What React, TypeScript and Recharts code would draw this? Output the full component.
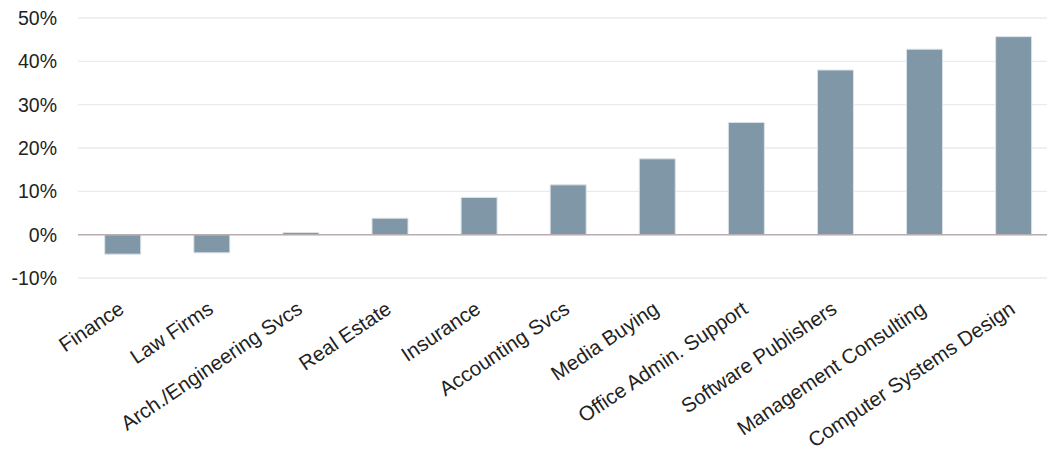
import { BarChart, Bar, XAxis, YAxis, CartesianGrid, ReferenceLine } from 'recharts';

const industries = [
  'Finance',
  'Law Firms',
  'Arch./Engineering Svcs',
  'Real Estate',
  'Insurance',
  'Accounting Svcs',
  'Media Buying',
  'Office Admin. Support',
  'Software Publishers',
  'Management Consulting',
  'Computer Systems Design',
];

const growth = [-4.5, -4.2, 0.5, 3.8, 8.6, 11.5, 17.5, 25.9, 38.0, 42.8, 45.7];

const yTicks = [-10, 0, 10, 20, 30, 40, 50];

const chartData = industries.map((name, i) => ({ name, value: growth[i] }));

const FONT = '"Liberation Sans", Arial, sans-serif';

function AngledTick({ x, y, payload }: any) {
  return (
    <g transform={`translate(${x + 3},${y + 26})`}>
      <text
        textAnchor="end"
        transform="rotate(-34)"
        fill="#222"
        fontSize={20.5}
        fontFamily={FONT}
      >
        {payload.value}
      </text>
    </g>
  );
}

export default function App() {
  return (
    <div style={{ position: 'absolute', left: 0, top: 0, width: 1047, height: 454, overflow: 'hidden', background: '#fff' }}>
      <BarChart
        width={1060}
        height={454}
        data={chartData}
        margin={{ top: 18, right: 2, bottom: 0, left: 0 }}
        barCategoryGap="30%"
      >
        <CartesianGrid vertical={false} stroke="#ebebeb" strokeWidth={1.3} />
        <XAxis
          dataKey="name"
          interval={0}
          height={176}
          axisLine={false}
          tickLine={false}
          tick={<AngledTick />}
        />
        <YAxis
          width={78}
          domain={[-10, 50]}
          ticks={yTicks}
          axisLine={false}
          tickLine={false}
          tickSize={0}
          tickMargin={21}
          tickFormatter={(v: number) => `${v}%`}
          tick={{ fill: '#222', fontSize: 19.5, fontFamily: FONT }}
        />
        <ReferenceLine y={0} stroke="#b8aeb1" strokeWidth={1.5} />
        <Bar dataKey="value" fill="#8097a7" stroke="#dce3e9" strokeWidth={1} isAnimationActive={false} />
      </BarChart>
    </div>
  );
}
